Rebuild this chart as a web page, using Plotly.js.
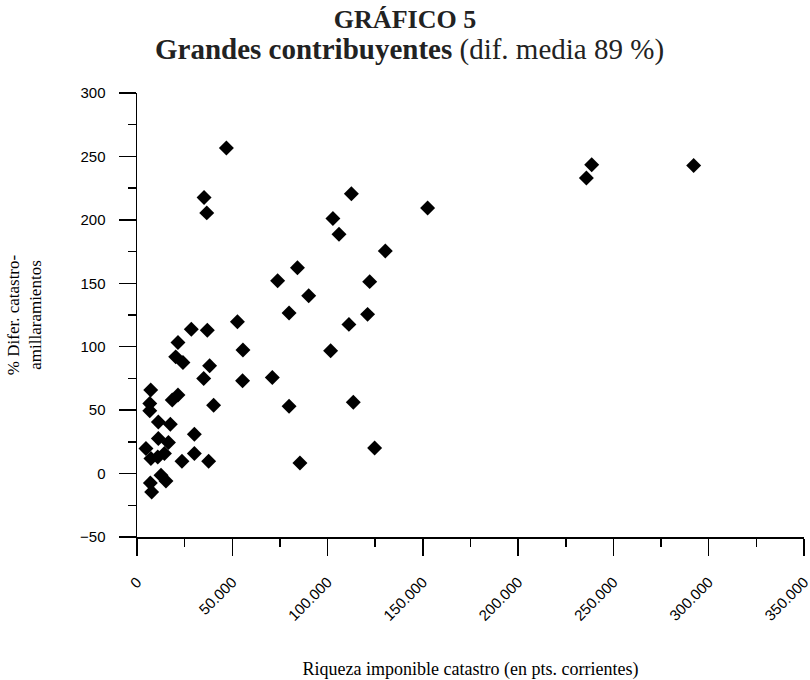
<!DOCTYPE html>
<html>
<head>
<meta charset="utf-8">
<script src="https://cdn.plot.ly/plotly-3.0.1.min.js"></script>
<style>html,body{margin:0;padding:0;background:#fff;}#chart{width:810px;height:680px;}</style>
</head>
<body>
<div id="chart"></div>
<script>
// Riqueza imponible catastro (pts.) and % diferencia catastro-amillaramientos
const riqueza = [
  46900, 35200, 36600, 112500, 102800, 106000, 152500, 130300, 84200, 73800,
  90100, 79800, 122100, 121000, 111200, 52700, 28500, 36900, 101600, 71000,
  79800, 113500, 124700, 85500, 238600, 235800, 292100, 55600, 21500, 20300,
  24100, 38100, 35000, 55400, 7200, 18500, 21500, 6700, 6700, 40200,
  11200, 17500, 30100, 11200, 16500, 4700, 7300, 10900, 14400, 30100,
  23600, 37600, 12600, 15200, 7000, 7700
];
const diferencia = [
  256.6, 217.6, 205.5, 220.6, 201.0, 188.7, 209.4, 175.5, 162.3, 152.0,
  140.2, 126.5, 151.3, 125.5, 117.6, 119.6, 113.7, 112.9, 96.8, 75.8,
  53.1, 56.3, 20.2, 8.4, 243.4, 233.0, 242.9, 97.4, 103.4, 92.0,
  87.6, 85.0, 75.0, 73.2, 65.8, 58.0, 62.0, 55.3, 49.5, 53.9,
  40.7, 38.9, 31.0, 27.6, 24.5, 19.7, 11.8, 13.1, 15.8, 15.8,
  9.7, 9.7, -1.3, -5.8, -7.4, -14.5
];
const titleLine1 = "<b>GRÁFICO 5</b>";
const titleLine2 = "<b>Grandes contribuyentes</b> (dif. media 89 %)";
const xTitle = "Riqueza imponible catastro (en pts. corrientes)";
const yTitle = "% Difer. catastro-<br>amillaramientos";

const trace = {
  type: "scatter",
  mode: "markers",
  x: riqueza,
  y: diferencia,
  marker: {symbol: "diamond", size: 11.5, color: "#000"},
  hoverinfo: "x+y"
};

const serif = "Liberation Serif, Times New Roman, serif";
const sans = "Liberation Sans, Arial, sans-serif";

const layout = {
  width: 810, height: 680,
  margin: {l: 137, r: 6, t: 93, b: 143},
  paper_bgcolor: "#fff", plot_bgcolor: "#fff",
  separators: ",.",
  showlegend: false,
  title: {
    text: titleLine1,
    font: {family: serif, size: 26, color: "#222"},
    x: 0.5, xref: "container", xanchor: "center",
    y: 1 - 19/680, yref: "container", yanchor: "middle"
  },
  annotations: [{
    text: titleLine2, showarrow: false,
    xref: "paper", yref: "paper", x: (409 - 137)/667, y: 1 + (93 - 50)/444,
    xanchor: "center", yanchor: "middle",
    font: {family: serif, size: 29, color: "#222"}
  }],
  xaxis: {
    range: [0, 350000],
    dtick: 50000, tick0: 0,
    tickformat: ",d",
    tickangle: -45,
    ticks: "outside", ticklen: 17, tickwidth: 1.5, tickcolor: "#000",
    minor: {ticks: "outside", dtick: 25000, ticklen: 8, tickwidth: 1.5, tickcolor: "#000"},
    showline: true, linewidth: 1.5, linecolor: "#000",
    showgrid: false, zeroline: false,
    tickfont: {family: sans, size: 15, color: "#000"},
    ticklabelstandoff: 12,
    ticklabeloverflow: "allow",
    title: {text: xTitle, font: {family: serif, size: 18, color: "#000"}, standoff: 42},
    fixedrange: true
  },
  yaxis: {
    range: [-50, 300],
    dtick: 50, tick0: 0,
    ticks: "outside", ticklen: 17, tickwidth: 1.5, tickcolor: "#000",
    minor: {ticks: "outside", dtick: 25, ticklen: 8, tickwidth: 1.5, tickcolor: "#000"},
    showline: true, linewidth: 1.5, linecolor: "#000",
    showgrid: false, zeroline: false,
    tickfont: {family: sans, size: 15, color: "#000"},
    ticklabelstandoff: 10,
    title: {text: yTitle, font: {family: serif, size: 17, color: "#000"}, standoff: 34},
    fixedrange: true
  }
};

Plotly.newPlot("chart", [trace], layout, {displayModeBar: false, staticPlot: true});
</script>
</body>
</html>
